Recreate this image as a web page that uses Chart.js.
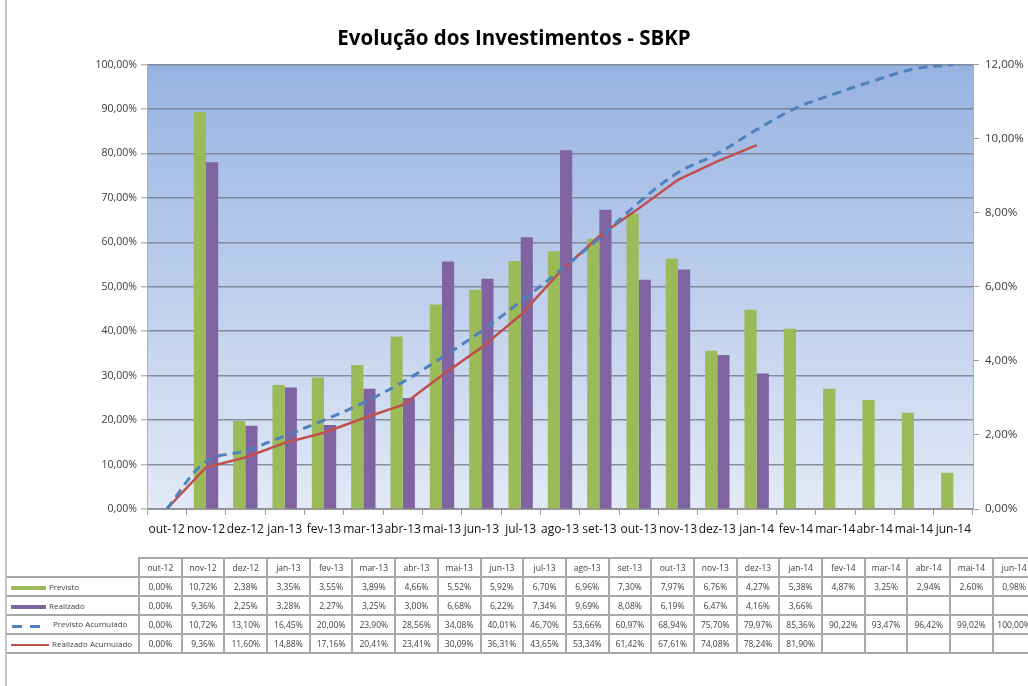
<!DOCTYPE html>
<html lang="pt">
<head>
<meta charset="utf-8">
<title>Evolução dos Investimentos - SBKP</title>
<script src="https://cdn.jsdelivr.net/npm/chart.js@4/dist/chart.umd.min.js"></script>
<style>
  html, body { margin: 0; padding: 0; background: #fff; }
  body { width: 1028px; height: 686px; position: relative; overflow: hidden; font-family: "Open Sans", "Noto Sans", sans-serif; }
  #chart-box { position: absolute; left: 0; top: 0; width: 1028px; height: 560px; }
  #frame-left { position: absolute; left: 5px; top: 0; width: 2px; height: 686px; background: #c4c4c4; }
  #data-table { position: absolute; left: 6px; top: 557px; width: 1030px; border-collapse: collapse; table-layout: fixed; font-size: 8.5px; color: #404040; }
  #data-table td { border: 2px solid #a8a8a8; height: 17px; padding: 0; text-align: center; white-space: nowrap; overflow: hidden; }
  #data-table td.lbl { text-align: left; border-left: none; font-size: 8px; }
  #data-table tr.head td.lbl { border-top: none; }
  .mk { display: inline-block; vertical-align: middle; margin-right: 3px; }
  .dash { display: inline-block; vertical-align: middle; width: 10px; height: 3px; background: #4f81bd; }
</style>
</head>
<body>
<div id="chart-box"><canvas id="grafico"></canvas></div>
<div id="frame-left"></div>
<table id="data-table"></table>

<script>
// Evolução dos Investimentos - SBKP
const meses = ["out-12", "nov-12", "dez-12", "jan-13", "fev-13", "mar-13", "abr-13", "mai-13", "jun-13", "jul-13", "ago-13",
  "set-13", "out-13", "nov-13", "dez-13", "jan-14", "fev-14", "mar-14", "abr-14", "mai-14", "jun-14"];

// percentuais mensais (eixo da direita, 0-12%)
const previsto = [0.00, 10.72, 2.38, 3.35, 3.55, 3.89, 4.66, 5.52, 5.92, 6.70, 6.96, 7.30, 7.97, 6.76, 4.27, 5.38, 4.87, 3.25, 2.94, 2.60, 0.98];
const realizado = [0.00, 9.36, 2.25, 3.28, 2.27, 3.25, 3.00, 6.68, 6.22, 7.34, 9.69, 8.08, 6.19, 6.47, 4.16, 3.66, null, null, null, null, null];

// acumulados (eixo da esquerda, 0-100%)
const previstoAcum = [0.00, 10.72, 13.10, 16.45, 20.00, 23.90, 28.56, 34.08, 40.01, 46.70, 53.66, 60.97, 68.94, 75.70, 79.97, 85.36, 90.22, 93.47, 96.42, 99.02, 100.00];
const realizadoAcum = [0.00, 9.36, 11.60, 14.88, 17.16, 20.41, 23.41, 30.09, 36.31, 43.65, 53.34, 61.42, 67.61, 74.08, 78.24, 81.90, null, null, null, null, null];

const ticksEsq = { min: 0, max: 100, step: 10 };
const ticksDir = { min: 0, max: 12, step: 2 };

const VERDE = "#9bbb59", ROXO = "#8064a2", AZUL = "#4f81bd", VERMELHO = "#c0504d";

function pct(v) {
  return v.toFixed(2).replace(".", ",") + "%";
}

// fundo em degradê da área do gráfico
const fundoPlot = {
  id: "fundoPlot",
  beforeDraw(chart) {
    const { ctx, chartArea: a } = chart;
    const g = ctx.createLinearGradient(0, a.top, 0, a.bottom);
    g.addColorStop(0, "#97b3e2");
    g.addColorStop(1, "#e3e9f6");
    ctx.save();
    ctx.fillStyle = g;
    ctx.fillRect(a.left, a.top, a.right - a.left, a.bottom - a.top);
    ctx.restore();
  }
};

new Chart(document.getElementById("grafico"), {
  type: "bar",
  data: {
    labels: meses,
    datasets: [
      { type: "line", label: "Previsto Acumulado", data: previstoAcum, yAxisID: "y", borderColor: AZUL, borderWidth: 3,
        borderDash: [9, 6], pointRadius: 0, tension: 0.35, order: 0 },
      { type: "line", label: "Realizado Acumulado", data: realizadoAcum, yAxisID: "y", borderColor: VERMELHO, borderWidth: 2.5,
        pointRadius: 0, tension: 0, order: 0 },
      { label: "Previsto", data: previsto, yAxisID: "y1", backgroundColor: VERDE, categoryPercentage: 0.62, barPercentage: 1, order: 1 },
      { label: "Realizado", data: realizado, yAxisID: "y1", backgroundColor: ROXO, categoryPercentage: 0.62, barPercentage: 1, order: 1 }
    ]
  },
  options: {
    responsive: true,
    maintainAspectRatio: false,
    animation: false,
    layout: { padding: 0 },
    plugins: {
      legend: { display: false },
      tooltip: { enabled: false },
      title: {
        display: true,
        text: "Evolução dos Investimentos - SBKP",
        color: "#000",
        font: { family: "'Open Sans', sans-serif", size: 20.5, weight: "bold", lineHeight: 1.2 },
        padding: { top: 27, bottom: 13 }
      }
    },
    scales: {
      x: {
        offset: true,
        grid: { offset: true, drawOnChartArea: false, drawTicks: true, tickLength: 6, color: "#9a9a9a" },
        border: { display: true, color: "#9a9a9a", width: 1 },
        ticks: { color: "#111", font: { family: "'Open Sans', sans-serif", size: 12, weight: 500 }, padding: 7, maxRotation: 0, autoSkip: false },
        afterFit(scale) { scale.height = 51; }
      },
      y: {
        position: "left",
        min: ticksEsq.min, max: ticksEsq.max,
        ticks: { stepSize: ticksEsq.step, color: "#3a3a3a", font: { family: "'Open Sans', sans-serif", size: 10.5 }, padding: 4, callback: (v) => pct(v) },
        grid: { color: "rgba(115,120,135,0.8)", lineWidth: 1.6, tickLength: 6, tickColor: "#9a9a9a", tickWidth: 1 },
        border: { display: true, color: "#b0b0b0" },
        afterFit(scale) { scale.width = 147; }
      },
      y1: {
        position: "right",
        min: ticksDir.min, max: ticksDir.max,
        ticks: { stepSize: ticksDir.step, color: "#3a3a3a", font: { family: "'Open Sans', sans-serif", size: 11.5 }, padding: 6, callback: (v) => pct(v) },
        grid: { drawOnChartArea: false, tickLength: 6, color: "#9a9a9a" },
        border: { display: true, color: "#b0b0b0" },
        afterFit(scale) { scale.width = 55; }
      }
    }
  },
  plugins: [fundoPlot]
});

// tabela de dados abaixo do gráfico
function montarTabela() {
  const tabela = document.getElementById("data-table");
  const cols = '<colgroup><col style="width:133px">' + meses.map(() => '<col style="width:42.7px">').join("") + "</colgroup>";
  const head = '<tr class="head"><td class="lbl"></td>' + meses.map((m) => `<td>${m}</td>`).join("") + "</tr>";
  const linhas = [
    { nome: "Previsto", dados: previsto, mk: `<span class="mk" style="width:35px;height:4px;background:${VERDE};margin-left:5px"></span>` },
    { nome: "Realizado", dados: realizado, mk: `<span class="mk" style="width:35px;height:4px;background:${ROXO};margin-left:5px"></span>` },
    { nome: "Previsto Acumulado", dados: previstoAcum, mk: '<span class="mk" style="margin-left:6px;width:38px"><span class="dash"></span><span class="dash" style="margin-left:8px"></span></span>' },
    { nome: "Realizado Acumulado", dados: realizadoAcum, mk: `<span class="mk" style="width:38px;height:2.5px;background:${VERMELHO};margin-left:5px"></span>` }
  ];
  const corpo = linhas
    .map((l) => `<tr><td class="lbl">${l.mk}${l.nome}</td>` + l.dados.map((v) => `<td>${v === null ? "" : pct(v)}</td>`).join("") + "</tr>")
    .join("");
  tabela.innerHTML = cols + head + corpo;
}

montarTabela();
</script>
</body>
</html>
